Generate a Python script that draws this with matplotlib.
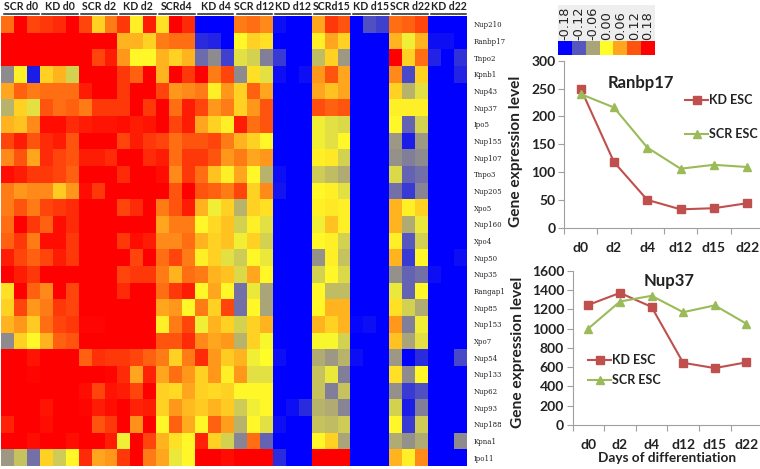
import numpy as np
import matplotlib
matplotlib.use('Agg')
import matplotlib.pyplot as plt
from matplotlib.colors import LinearSegmentedColormap

# ---- heatmap data (units of 0.01) ----
genes = ['Nup210', 'Ranbp17', 'Tnpo2', 'Kpnb1', 'Nup43', 'Nup37', 'Ipo5', 'Nup155', 'Nup107',
         'Tnpo3', 'Nup205', 'Xpo5', 'Nup160', 'Xpo4', 'Nup50', 'Nup35', 'Rangap1', 'Nup85',
         'Nup153', 'Xpo7', 'Nup54', 'Nup133', 'Nup62', 'Nup93', 'Nup188', 'Kpna1', 'Ipo11']
groups = ['SCR d0', 'KD d0', 'SCR d2', 'KD d2', 'SCRd4', 'KD d4',
          'SCR d12', 'KD d12', 'SCRd15', 'KD d15', 'SCR d22', 'KD d22']
heat = [
    [10, 18, 13, 14, 15, 18, 13, 3, 9, 14, 1, 16, 2, 18, 15, -18, -18, -18, 9, 10, 8, -17, -18, -18, 6, 14, 12, -18, -12.5, -13.5, 10, 11, 13, -18, -18, -18],
    [18, 18, 18, 18, 18, 18, 18, 18, 18, 5, 5, 3, 9, 10, 10, -15, -15.5, -18, 0.5, 3, 2, -18, -18, -18, 1, 6, 3, -18, -18, -18, 5, -1, 5, -17, -17, -18],
    [18, 18, 18, 18, 18, 18, 18, 13, 16, 7, 0.5, 0.5, 5, 3, 5, -10.5, -8, -13.5, -2, -3, -9, -14, -18, -18, -4.5, 3, -7, -18, -18, -18, 18, 3, 10, -15.5, -18, -14.5],
    [-8, 1, -16, 3, 5, -3, 18, 18, 18, 14, 11, 18, 5, 18, 14, 18, 9, 13, -8, 2, -2, -17, -18, -17, 7, 12, 6, -18, -18, -18, 8, -13, 3, -18, -18, -15.5],
    [6, 11, 9, 10, 10, 10, 16, 18, 18, 14, 18, 18, 13, 7, 8, 9, 1, 7, 3, 11, 6, -18, -18, -18, 6, 4, 6, -18, -18, -18, 3, -5, -2, -18, -18, -18],
    [-5, 3, -2, 12, 10, 11, 9, 14, 14, 14, 18, 14, 18, 10, 16, 13, 7, 9, 3, 7, 12, -18, -18, -18, 12.5, 11, 12, -18, -18, -18, 1, 1, 1, -18, -18, -18],
    [5, 4, 8, 17, 17, 15, 16, 16.5, 16.5, 17, 16, 16.5, 18, 13, 16, 6, 3, 1, 16, 10, 12, -18, -18, -18, -1, -2, -2.5, -18, -18, -18, 0.5, -11, -3, -18, -18, -18],
    [13, 16, 12, 15, 16, 12, 18, 18, 18, 13, 16, 14, 13, 10, 12, 12, 13, 9, 5, 3, 0.5, -18, -18, -18, -1, -2, 0.5, -18, -18, -18, -7, -16, -7, -18, -18, -18],
    [8, 12, 6, 15, 13, 12, 16, 16, 15, 18, 18, 15, 16, 10, 14, 14, 12, 7, 9, 6, 7, -18, -18, -18, 1, 1.5, -3, -18, -18, -18, -7.5, -9, -8, -18, -18, -18],
    [17, 16, 14, 14, 13, 11, 18, 18, 18, 15, 18, 18, 17, 8, 14, 10, 4, 1, 6, 0.5, -5, -17, -18, -18, -3.5, -4.5, -5.5, -18, -18, -18, -2.5, -11, -10, -18, -18, -18],
    [9, 7, 8, 8, 3.5, 7, 17, 14, 18, 18, 18, 18, 18, 12, 18, 12, 11, 9, 13, 3, 8, -16.5, -18, -18, 0.5, 1, -2, -18, -18, -18, -10, -14, -8.5, -18, -18, -18],
    [9, 12, 9, 13, 14, 15, 18, 18, 18, 13, 15, 18, 9, 12, 16, 5, -1, 3, -5, 3, 2, -18, -18, -18, 1, 1.5, 1, -18, -18, -18, 5, 1, 3, -18, -18, -18],
    [10, 18, 14, 11, 17, 15, 18, 18, 18, 18, 18, 18, 6, 9, 9, 0.5, 2.5, 4, -3, 1, -2, -18, -18, -18, -1, 4, 1, -18, -18, -18, 5, -5.5, -1.5, -18, -18, -18],
    [11, 14, 9, 17, 17, 14, 18, 18, 18, 14, 17, 16, 8, 8, 10, 5, 3, 4, -1, 3, -3, -18, -18, -18, 0.5, 1, -3, -18, -18, -18, 1, -12, -3, -18, -18, -18],
    [16, 13, 11, 13, 16, 14, 18, 18, 18, 18, 13, 18, 10, 13, 9, 1, 3, -2, -3.5, 0.5, -1.5, -18, -18, -18, -7.5, 1, -4, -18, -18, -18, 5, -14, 0.5, -18, -18, -17],
    [18, 16, 14, 18, 18, 18, 18, 18, 18, 13, 14, 14, 9, 5, 10, 9, 5, 4, -2.5, 6, 0.5, -18, -18, -18, -3, 0.5, -2.5, -18, -18, -18, -7.5, -11, -10, -17, -18, -18],
    [2, 18, 11, 8, 18, 13, 18, 18, 18, 15, 18, 18, 10, 14, 16, 0.5, 6, 0.5, -10, -1.5, -6, -18, -18, -18, 0.5, -4.5, -4.5, -18, -18, -18, -1.5, -11, 0.5, -18, -18, -18],
    [3, 13, 7, 9, 14, 13, 18, 18, 18, 18, 18, 18, 6, 7, 0.5, 9, 3, 13, -10, 0.5, -6, -18, -18, -18, 0.5, 5, 5, -18, -18, -18, 2, -3, -5.5, -18, -18, -18],
    [5, 7, 3.5, 10, 13, 14, 17.5, 17.5, 18, 18, 18, 18, 1, 9, 13, -1, 5, 3, -3, 3, 5, -18, -18, -18, 5, 3, 5, -17.5, -17, -18, 7, -9, -1, -18, -18, -18],
    [-8, 3, 0.5, 5, 11, 12, 18, 18, 18, 18, 18, 18, 12, 12, 15, 8, 6, 7, -5, 3, -0.5, -18, -18, -18, -0.5, -0.5, -3, -18, -18, -18, 4, -6, -2, -18, -18, -18],
    [18, 18, 16.5, 18, 18, 18, 11, 14.5, 14, 14, 13, 11, 9, 3, 9, 15, 7, 3.5, 5, -1, 0, -17, -18, -18, -5.5, -7, -5, -17, -18, -18, -7, -18, -15, -18, -18, -13],
    [18, 18, 17.5, 18, 18, 18, 18, 18, 17.5, 15, 6, 15.5, 6, 10, 7, 3, 7, 1, 7, -2, -2, -18, -18, -18, -4, -1.5, -9, -18, -18, -18, 2, -8, 0.5, -18, -18, -18],
    [18, 18, 18, 18, 18, 18, 17, 13, 16.5, 16, 13, 18, 3, 2.5, 6, 3, 2.5, 3, 0.5, 0.5, 0.5, -18, -18, -18, -4, -9, -4, -18, -18, -18, -7.5, -14, -12.5, -18, -18, -18],
    [18, 18, 18, 16.5, 18, 18, 17.5, 16, 17, 18, 15.5, 16, 3, 7, 4.5, 3.5, 5, 3.5, -3.5, -1, 0.5, -18, -17, -15, -5, -5.5, -8.5, -18, -18, -18, -3, -16, -9, -18, -18, -18],
    [15.5, 18, 18, 17, 18, 18, 18, 12, 14, 18, 7.5, 18, 0.5, 11, 5.5, 0.5, 11, 6.5, -5, 0.5, -2, -17, -18, -18, -4, -4.5, -3.5, -18, -18, -18, 0.5, -14, -3.5, -18, -18, -18],
    [18, 18, 17, 18, 18, 17, 18, 18, 16, -1, 18, 13, 5, 2, 0.5, 15.5, 3, -3, -8.5, 10, -11, -18, -18, -18, 0.5, 3, -6, -18, -18, -18, -5.5, -7.5, -5.5, -18, -18, -8],
    [-7, -4, -10, 3, -3.5, 0.5, 15, 6, 7, 14, 18, 9, 6, -1.5, 0.5, 18, 18, 17, 18, 18, 18, -15, -18, -18, 18, 18, 18, -18, -18, -18, 5, 1, 8, -18, -18, -18],
]
scale_vals = [-0.18, -0.12, -0.06, 0.00, 0.06, 0.12, 0.18]

# ---- line chart data ----
days = ['d0', 'd2', 'd4', 'd12', 'd15', 'd22']
ranbp_kd = [250, 118, 50, 33, 35, 44]
ranbp_scr = [240, 216, 144, 106, 113, 109]
nup_kd = [1245, 1370, 1225, 645, 590, 650]
nup_scr = [1000, 1280, 1340, 1170, 1240, 1050]

W, H = 760, 469
KD_COL = '#C0504D'
SCR_COL = '#9BBB59'
TXT = '#222222'
plt.rcParams['font.family'] = ['Lato', 'DejaVu Sans']


def px_axes(fig, left, top, right, bottom):
    # axes placed by pixel edges of the 760x469 picture
    return fig.add_axes([left / W, 1 - bottom / H, (right - left) / W, (bottom - top) / H])


def style_line_ax(ax, yticks, n_right):
    ax.set_xlim(-0.5, n_right)
    ax.set_xticks(np.arange(-0.5, n_right, 1.0))
    ax.set_xticklabels([])
    # day labels sit between the ticks, excel style
    ax.set_xticks(range(6), labels=days, minor=True)
    ax.tick_params(axis='x', which='minor', length=0, labelsize=10, pad=10, labelcolor=TXT)
    for lab in ax.get_xticklabels(minor=True):
        lab.set_fontweight('bold')
    ax.tick_params(axis='x', which='major', length=4, color='#a0a0a0', width=0.8)
    ax.set_yticks(yticks)
    ax.tick_params(axis='y', length=4, color='#a0a0a0', width=0.8, labelsize=10, pad=2, labelcolor=TXT)
    for lab in ax.get_yticklabels():
        lab.set_fontweight('bold')
    for s in ['top', 'right']:
        ax.spines[s].set_visible(False)
    for s in ['left', 'bottom']:
        ax.spines[s].set_color('#a0a0a0')
        ax.spines[s].set_linewidth(0.8)
    ax.patch.set_alpha(0)


def draw_series(ax, kd, scr):
    ax.plot(range(6), kd, color=KD_COL, lw=1.5, marker='s', ms=5.8, label='KD ESC')
    ax.plot(range(6), scr, color=SCR_COL, lw=1.5, marker='^', ms=6, label='SCR ESC')


fig = plt.figure(figsize=(W / 100, H / 100), dpi=100)

cmap = LinearSegmentedColormap.from_list('heat', list(zip(
    [0, 1 / 6, 2 / 6, 3 / 6, 4 / 6, 5 / 6, 1],
    ['#0000FF', '#5858BE', '#AAA578', '#FFFF28', '#FFA51E', '#FF550F', '#FF0000'])))

# ---- heatmap ----
ax = px_axes(fig, 1, 16, 467, 466)
ax.imshow(np.array(heat) / 100, cmap=cmap, vmin=-0.18, vmax=0.18, aspect='auto', interpolation='nearest')
ax.set_xticks([])
ax.yaxis.tick_right()
ax.set_yticks(range(len(genes)), labels=genes, family='DejaVu Serif', fontsize=5, color=TXT)
ax.tick_params(axis='y', length=0, pad=5)
for s in ax.spines.values():
    s.set_visible(False)

for i, g in enumerate(groups):
    ax.plot([3 * i - 0.3, 3 * i + 2.45], [-0.62, -0.62], color=TXT, lw=1.1, clip_on=False,
            scalex=False, scaley=False)
    ax.text(3 * i + 1.08, -0.72, g, ha='center', va='bottom', fontsize=7.6, fontweight='bold', color=TXT)

# ---- colour scale ----
cax = px_axes(fig, 558, 41, 655, 55)
cax.imshow(np.array(scale_vals)[None, :], cmap=cmap, vmin=-0.18, vmax=0.18, aspect='auto')
cax.set_yticks([])
cax.xaxis.tick_top()
cax.set_xticks(range(7), labels=['%.2f' % v for v in scale_vals], rotation=90, fontsize=9.3,
               family='DejaVu Sans', color=TXT)
cax.tick_params(axis='x', length=0, pad=0.5)
for s in cax.spines.values():
    s.set_visible(False)
fig.patches.append(plt.Rectangle((558 / W, 1 - 55 / H), 97 / W, 50 / H, transform=fig.transFigure,
                                 facecolor='#eeeeee', edgecolor='none', zorder=-1))

# ---- Ranbp17 ----
ax1 = px_axes(fig, 564, 60.7, 760, 227.7)
draw_series(ax1, ranbp_kd, ranbp_scr)
ax1.set_ylim(0, 300)
style_line_ax(ax1, range(0, 301, 50), 5.385)
ax1.text((641 - 564) / 196, 1 - (83 - 60.7) / 167, 'Ranbp17', transform=ax1.transAxes, ha='center', va='center',
         fontsize=12, fontweight='bold', color=TXT)
ax1.legend(loc='upper left', bbox_to_anchor=((685 - 564) / 196, 0.80), frameon=False,
           handlelength=1.85, handletextpad=0.1, labelspacing=1.75, borderpad=0, borderaxespad=0,
           prop={'weight': 'bold', 'size': 9}, labelcolor=TXT)
fig.text(516 / W, 1 - 151 / H, 'Gene expression level', rotation=90, ha='center', va='center',
         fontsize=11.2, fontweight='bold', color=TXT)

# ---- Nup37 ----
ax2 = px_axes(fig, 572.5, 270.7, 760, 425)
draw_series(ax2, nup_kd, nup_scr)
ax2.set_ylim(0, 1600)
style_line_ax(ax2, range(0, 1601, 200), 5.43)
ax2.text((669 - 572.5) / 187.5, 1 - (281 - 270.7) / 154.3, 'Nup37', transform=ax2.transAxes, ha='center', va='center',
         fontsize=12, fontweight='bold', color=TXT)
ax2.legend(loc='upper left', bbox_to_anchor=((588 - 572.5) / 187.5, 0.46), frameon=False,
           handlelength=1.85, handletextpad=0.1, labelspacing=0.65, borderpad=0, borderaxespad=0,
           prop={'weight': 'bold', 'size': 9}, labelcolor=TXT)
fig.text(518 / W, 1 - 352 / H, 'Gene expression level', rotation=90, ha='center', va='center',
         fontsize=11.2, fontweight='bold', color=TXT)
fig.text(667 / W, 1 - 458 / H, 'Days of differentiation', ha='center', va='center',
         fontsize=9.8, fontweight='bold', color=TXT)

fig.savefig('out.png', dpi=100)
